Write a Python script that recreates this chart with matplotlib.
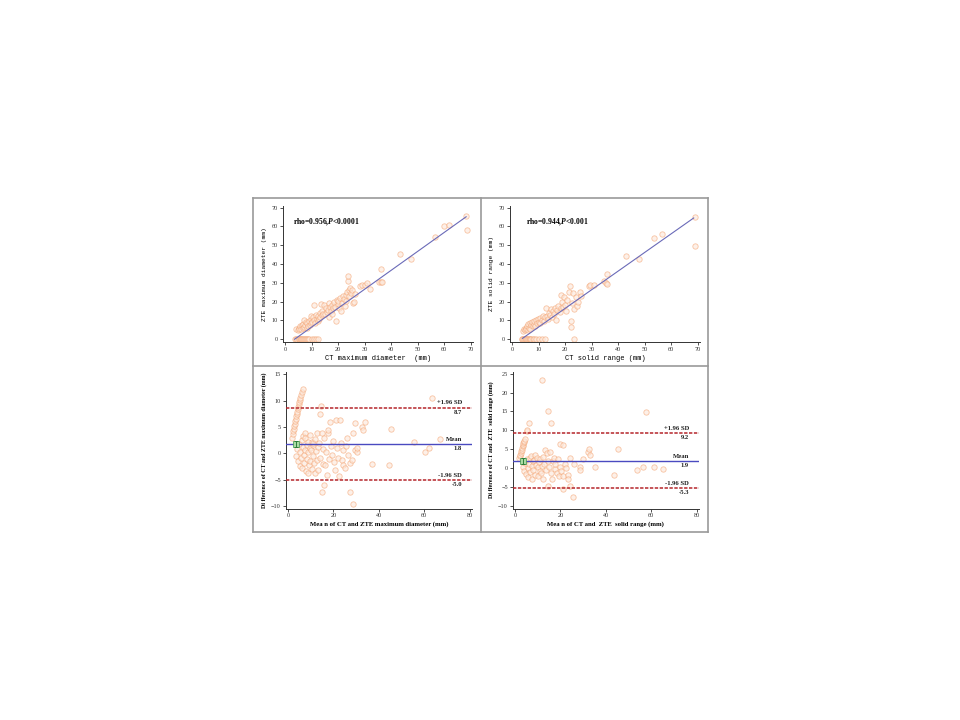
import matplotlib
matplotlib.use("Agg")
import matplotlib.pyplot as plt
from matplotlib.lines import Line2D
from matplotlib.patches import Rectangle
import numpy as np

plt.rcParams["font.family"] = ["Liberation Serif", "DejaVu Serif"]
plt.rcParams["mathtext.fontset"] = "custom"
plt.rcParams["mathtext.it"] = "Liberation Serif:italic:bold"

# ---- panel A: CT vs ZTE maximum diameter (mm)
ct_max = [3.5, 4.0, 4.5, 5.0, 5.2, 5.5, 5.8, 6.0, 6.3, 6.6, 7.0, 7.3, 7.7, 8.0, 8.5, 9.0, 10.0, 10.8, 11.5, 12.2,
          4.2, 4.8, 5.0, 5.3, 5.6, 5.9, 6.2, 6.5, 6.8, 6.9, 7.2, 7.5, 7.8, 8.0, 8.3, 8.6, 8.9, 9.2, 9.5, 9.6,
          9.8, 10.2, 10.5, 10.8, 11.0, 11.3, 11.5, 11.8, 12.2, 12.5, 12.8, 13.0, 13.2,
          13.5, 13.8, 14.0, 14.3, 14.6, 15.0, 15.2, 15.6, 16.0, 16.3, 16.5, 16.8, 17.2, 17.5, 17.8, 18.0,
          18.4, 18.8, 19.2, 19.5, 19.8, 20.0, 20.3, 20.6, 21.0, 21.3, 21.6, 22.0, 22.4, 22.8, 23.0, 23.3,
          23.5, 23.8, 24.0, 24.2, 24.5, 24.8, 25.2, 25.5, 26.0, 26.4,
          28.2, 29.0, 30.0, 31.0, 32.0, 35.2, 36.0, 36.5, 36.2, 43.4, 47.4, 56.6, 60.0, 62.0, 68.8, 68.3]
zte_max = [0] * 20 + [
          5.2, 5.0, 6.0, 5.5, 6.8, 5.2, 7.4, 6.0, 8.2, 10.3, 6.6, 7.8, 9.0, 6.2, 8.4, 7.0, 9.6, 7.6, 10.8, 12.5,
          8.8, 9.4, 12.0, 18.3, 10.2, 8.6, 13.0, 11.0, 9.6, 12.4, 10.6, 14.0, 11.6,
          19.0, 12.8, 15.2, 13.4, 18.2, 13.6, 16.4, 14.4, 15.6, 19.5, 12.0, 17.0, 15.0, 13.2, 18.2, 16.4,
          19.8, 17.2, 9.8, 21.0, 18.6, 20.4, 16.8, 22.2, 15.0, 19.4, 23.2, 21.4, 17.8, 23.6, 20.6, 25.2,
          31.0, 33.4, 26.4, 22.8, 27.2, 24.4, 26.0, 19.2, 20.0, 24.0,
          28.4, 28.8, 29.0, 30.0, 26.6, 30.6, 30.2, 30.5, 37.6, 45.4, 42.6, 54.2, 60.0, 61.0, 58.2, 65.4]

# ---- panel B: CT vs ZTE solid range (mm)
ct_solid = [3.5, 3.8, 4.0, 4.2, 4.6, 5.0, 5.3, 5.6, 5.9, 6.2, 6.5, 6.8, 7.2, 7.6, 8.0, 9.0, 10.0, 11.0, 12.2, 23.4,
            4.0, 4.4, 4.8, 5.0, 5.3, 5.6, 5.8, 6.0, 6.3, 6.6, 6.8, 7.0, 7.3, 7.6, 8.0, 8.3, 8.6, 9.0, 9.3, 9.6,
            10.0, 10.3, 10.6, 11.0, 11.4, 11.8, 12.2, 12.6, 13.0, 13.4, 13.8, 14.2, 14.6, 15.0, 15.4, 15.8,
            16.2, 16.6, 17.0, 17.4, 17.8, 18.2, 18.5, 18.8, 19.2, 19.6, 20.0, 20.4, 20.8, 21.2, 21.6, 22.0,
            22.2, 22.5, 23.0, 23.4, 24.0, 24.3, 24.6, 25.4, 25.8,
            29.0, 29.4, 31.0, 34.6, 35.2, 35.6, 35.8, 42.8, 48.0, 53.5, 56.5, 68.9, 68.9]
zte_solid = [0] * 20 + [
            4.6, 5.2, 4.8, 6.0, 5.4, 7.0, 5.0, 8.0, 6.2, 8.8, 5.6, 7.4, 9.2, 6.8, 8.0, 9.6, 7.2, 10.0, 8.4, 10.6,
            9.2, 11.4, 8.6, 10.4, 12.2, 9.8, 11.6, 16.8, 12.4, 10.8, 14.0, 12.8, 16.0, 11.6, 14.8, 13.2,
            16.6, 10.4, 15.4, 17.8, 14.4, 23.8, 16.6, 20.0, 17.4, 22.4, 18.4, 15.2, 20.8, 25.4, 28.5, 9.6,
            6.4, 19.4, 24.6, 16.0, 22.6, 17.6, 20.0, 25.2, 23.0,
            28.4, 28.8, 29.0, 31.0, 30.0, 29.6, 34.8, 44.2, 42.6, 54.0, 56.0, 64.8, 49.8]

# regression lines (slope, intercept, x start, x end)
fit_max = (1.005, -3.5, 3.5, 68.3)
fit_solid = (0.99, -3.3, 3.8, 68.5)

# ---- panel C: Bland-Altman maximum diameter
ba_max_mean = [1.7, 2.0, 2.2, 2.5, 2.7, 3.0, 3.2, 3.4, 3.6, 3.9, 4.1, 4.3, 4.6, 4.8, 5.0, 5.3, 5.5, 5.8, 6.1, 6.4,
               3.5, 4.0, 4.5, 5.0, 5.2, 5.5, 5.8, 6.0, 6.2, 6.5, 6.7, 6.9, 7.2, 7.5, 7.5, 7.7, 8.0, 8.2, 8.4, 8.7,
               8.9, 9.0, 9.2, 9.5, 9.7, 9.9, 10.2, 10.4, 10.6, 10.9, 11.0, 11.2, 11.5, 11.8, 11.9, 12.2, 12.6,
               12.8, 13.2, 13.4, 13.8, 14.0, 14.3, 14.5, 14.8, 14.8, 15.2, 15.6, 16.0, 16.0, 16.3, 16.8, 17.2,
               17.5, 17.8, 18.2, 18.5, 18.8, 19.3, 19.8, 20.2, 20.7, 21.2, 21.5, 22.0, 22.3, 22.8, 23.2, 23.6,
               24.0, 24.4, 25.1, 25.6, 26.0, 26.5, 27.2, 27.4, 28.0, 28.8, 28.8, 29.5, 29.5, 30.2, 30.5, 32.5,
               33.2, 33.9, 37.0, 44.5, 45.5, 55.6, 60.2, 62.0, 63.5, 66.8]
ba_max_diff = [3.0, 3.6, 4.2, 4.7, 5.1, 5.6, 6.1, 6.5, 7.0, 7.5, 7.9, 8.4, 8.8, 9.3, 9.7, 10.2, 10.6, 11.1, 11.6, 12.2,
               -0.5, 0.8, -1.5, 1.8, -2.4, 0.2, -0.9, 2.6, -2.8, 1.2, 3.2, -0.4, -1.8, 3.8, 2.9, 0.6, -3.4, 1.6, -1.0, 2.2,
               -3.8, 0.2, -2.2, 1.0, 3.4, -1.4, 0.6, 2.2, -2.9, -0.6, 1.6, 1.9, -1.8, 2.8, -3.8, 0.4, 3.8,
               -1.2, 1.2, -3.2, 2.0, 7.4, -0.8, 9.0, 3.8, -7.4, 0.8, -2.0, 2.9, -6.1, -2.2, 0.2, -4.1,
               3.8, 4.4, -1.0, 6.0, 1.4, -0.4, 2.4, -1.6, -3.2, 6.3, 1.0, -0.8, -4.4, 6.4, 2.0, -1.2,
               0.6, -2.2, -2.8, 1.4, 3.0, -0.4, -7.3, -1.9, -1.3, 3.8, -9.6, 5.7, 0.6, 0.3, 1.0, 5.0,
               4.4, 6.0, -2.0, -2.2, 4.6, 2.2, 0.3, 1.0, 10.6, 2.8]
ba_max_lines = {"mean": 1.8, "upper": 8.7, "lower": -5.0}
ba_max_ci = (1.25, 2.35)

# ---- panel D: Bland-Altman solid range
ba_solid_mean = [1.9, 2.1, 2.3, 2.5, 2.7, 2.9, 3.1, 3.3, 3.5, 3.7, 3.9, 4.1, 4.4, 5.1, 5.1, 6.3,
                 11.7, 14.4, 15.9, 57.5,
                 3.6, 4.0, 4.5, 5.0, 5.3, 5.6, 5.9, 6.2, 6.6, 6.8, 7.1, 7.3, 7.6, 7.9, 8.1, 8.4, 8.8, 9.0, 9.3,
                 9.6, 9.9, 10.2, 10.5, 10.8, 11.1, 11.4, 11.8, 12.2, 12.5, 12.8, 13.2, 13.5, 13.9, 14.3, 14.7,
                 15.0, 15.4, 15.8, 16.2, 16.6, 17.0, 17.4, 17.8, 18.3, 18.8, 19.3, 19.8, 19.8, 20.4, 20.9, 20.9,
                 21.3, 21.8, 22.5, 23.1, 23.1, 24.3, 24.3, 25.4, 26.0, 28.6, 28.6, 30.1, 32.3, 32.7, 33.0, 35.2,
                 43.4, 45.2, 53.9, 56.5, 61.2, 65.0]
ba_solid_diff = [2.6, 3.1, 3.6, 4.0, 4.5, 4.9, 5.4, 5.8, 6.2, 6.7, 7.0, 7.3, 7.6, 9.7, 10.1, 11.9,
                 23.2, 15.2, 12.0, 14.8,
                 0.4, -0.8, 1.4, -1.6, 2.4, 0.0, -2.4, 1.0, 2.6, -1.0, 3.2, 0.6, -2.8, 1.8, -0.4, 2.2, 3.5, -1.8, 0.8,
                 2.8, -2.2, 0.2, 1.6, -0.8, 2.4, -1.4, 0.6, 3.0, -2.8, 1.2, 4.9, -0.6, 4.0, 1.8, -4.8,
                 0.4, 4.4, -1.2, -3.0, 1.8, 2.8, -0.2, 1.0, -1.4, 2.4, -2.0, 6.4, 0.4, -0.8, -2.2, -5.5,
                 6.2, 1.2, 0.0, -1.8, -2.8, 2.6, -4.6, -7.5, 1.0, 0.4, -0.5, 2.5, 4.4, 5.1, 3.5, 0.4,
                 -1.8, 5.0, -0.4, 0.3, 0.3, -0.1]
ba_solid_lines = {"mean": 1.9, "upper": 9.2, "lower": -5.3}
ba_solid_ci = (1.1, 2.6)

pt_edge = "#f5a878"
pt_face = "#fde9dc"

fig = plt.figure(figsize=(9.6, 7.2), dpi=100)

# outer frame of the four cells
frame_kw = dict(color="#9a9a9a", lw=1.2, transform=fig.transFigure)
x0, x1, xm = 0.2635, 0.7375, 0.501
y0, y1, ym = 0.2611, 0.7250, 0.4917
for xs, ys in [([x0, x1], [y1, y1]), ([x0, x1], [y0, y0]), ([x0, x0], [y0, y1]),
               ([x1, x1], [y0, y1]), ([xm, xm], [y0, y1]), ([x0, x1], [ym, ym])]:
    fig.add_artist(Line2D(xs, ys, **frame_kw))


def style_axis(ax):
    for s in ["top", "right"]:
        ax.spines[s].set_visible(False)
    for s in ["left", "bottom"]:
        ax.spines[s].set_linewidth(0.7)
        ax.spines[s].set_color("#333333")
    ax.tick_params(labelsize=4.5, length=2, width=0.6, pad=1.5, colors="#333333")


def scatter_panel(rect, x, y, fit, xlabel, ylabel, note, note_x):
    ax = fig.add_axes(rect)
    ax.scatter(x, y, s=15, facecolor=pt_face, edgecolor=pt_edge, linewidth=0.6, alpha=0.65, zorder=2)
    k, b, xa, xb = fit
    xl = np.array([xa, xb])
    ax.plot(xl, k * xl + b, color="#6a6ab8", lw=0.8, zorder=3)
    ax.set_xlim(-1, 71)
    ax.set_ylim(-1.5, 71)
    ax.set_xticks(range(0, 71, 10))
    ax.set_yticks(range(0, 71, 10))
    ax.set_xlabel(xlabel, fontsize=5, family="Liberation Mono", labelpad=2)
    ax.set_ylabel(ylabel, fontsize=4.5, family="Liberation Mono", labelpad=3)
    ax.text(note_x, 62.4, note, fontsize=5.5, fontweight="bold", va="center")
    style_axis(ax)
    return ax


def ba_panel(rect, m, d, lines, ci, ylim, yticks, xlabel, ylabel):
    ax = fig.add_axes(rect)
    ax.scatter(m, d, s=15, facecolor=pt_face, edgecolor=pt_edge, linewidth=0.6, alpha=0.65, zorder=2)
    ax.axhline(lines["mean"], color="#4a4ac0", lw=1.0, zorder=3)
    for key in ["upper", "lower"]:
        ax.axhline(lines[key], color="#b5262b", lw=1.1, ls=(0, (2.2, 1.0)), zorder=3)
    # CI of the mean difference
    ax.add_patch(Rectangle((2.2, ci[0]), 2.8, ci[1] - ci[0], facecolor="#a9dba3",
                           edgecolor="#3f9a4a", lw=0.5, zorder=4))
    ax.errorbar([3.6], [lines["mean"]], yerr=[[lines["mean"] - ci[0]], [ci[1] - lines["mean"]]],
                color="#2e7d3a", lw=0.7, capsize=1.5, capthick=0.7, zorder=5)
    tx = 76.6
    off = 0.4 * (ylim[1] - ylim[0]) / 26
    lab = dict(fontsize=4.8, fontweight="bold", ha="right", color="#222222")
    ax.text(tx, lines["upper"] + off, "+1.96 SD", va="bottom", **lab)
    ax.text(tx, lines["upper"] - off, f"{lines['upper']:.1f}", va="top", **lab)
    ax.text(tx, lines["mean"] + off, "Mean", va="bottom", **lab)
    ax.text(tx, lines["mean"] - off, f"{lines['mean']:.1f}", va="top", **lab)
    ax.text(tx, lines["lower"] + off, "-1.96 SD", va="bottom", **lab)
    ax.text(tx, lines["lower"] - off, f"{lines['lower']:.1f}", va="top", **lab)
    ax.set_xlim(-1, 81)
    ax.set_ylim(*ylim)
    ax.set_xticks(range(0, 81, 20))
    ax.set_yticks(yticks)
    ax.set_xlabel(xlabel, fontsize=4.8, fontweight="bold", labelpad=2)
    ax.set_ylabel(ylabel, fontsize=4.3, fontweight="bold", labelpad=3)
    style_axis(ax)
    return ax


scatter_panel([0.2945, 0.5249, 0.1985, 0.1893], ct_max, zte_max, fit_max,
              "CT maximum diameter  (mm)", "ZTE maximum diameter (mm)",
              r"rho=0.956,$P$<0.0001", 2.9)
scatter_panel([0.5310, 0.5249, 0.1985, 0.1893], ct_solid, zte_solid, fit_solid,
              "CT solid range (mm)", "ZTE solid range (mm)",
              r"rho=0.944,$P$<0.001", 5.2)

ba_panel([0.2976, 0.2936, 0.1941, 0.1901], ba_max_mean, ba_max_diff, ba_max_lines, ba_max_ci,
         (-10.5, 15.5), range(-10, 16, 5),
         "Mea n of CT and ZTE maximum diameter (mm)",
         "Di fference of CT and ZTE maximum diameter (mm)")
ba_panel([0.5341, 0.2936, 0.1941, 0.1901], ba_solid_mean, ba_solid_diff, ba_solid_lines, ba_solid_ci,
         (-10.7, 25.5), range(-10, 26, 5),
         "Mea n of CT and  ZTE  solid range (mm)",
         "Di fference of CT and  ZTE  solid range (mm)")

fig.savefig("out.png", dpi=100)
